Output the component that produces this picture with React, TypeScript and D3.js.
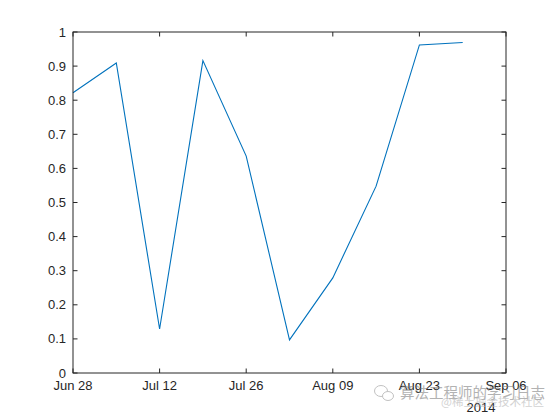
import React from "react";
import * as d3 from "d3";

const dates = ["2014-06-28","2014-07-05","2014-07-12","2014-07-19","2014-07-26","2014-08-02","2014-08-09","2014-08-16","2014-08-23","2014-08-30"];
const values = [0.822, 0.909, 0.129, 0.916, 0.636, 0.097, 0.279, 0.548, 0.962, 0.969];
const xTickDates = ["2014-06-28","2014-07-12","2014-07-26","2014-08-09","2014-08-23","2014-09-06"];
const yTicks = [0,0.1,0.2,0.3,0.4,0.5,0.6,0.7,0.8,0.9,1];

const W = 560, H = 420;
const L = 73, R = 506, T = 32, B = 373;
const AX = "#262626";
const FONT = "'Liberation Sans', Arial, Helvetica, sans-serif";
const CJK = "'Noto Sans CJK SC', sans-serif";

export default function App() {
  const parse = d3.utcParse("%Y-%m-%d");
  const x = d3.scaleUtc().domain([parse("2014-06-28")!, parse("2014-09-06")!]).range([L, R]);
  const y = d3.scaleLinear().domain([0, 1]).range([B, T]);
  const fmt = d3.utcFormat("%b %d");
  const pts = dates.map((d, i) => [x(parse(d)!), y(values[i])] as [number, number]);
  const line = d3.line();
  const tl = 4.5;
  return (
    <svg width={W} height={H} style={{ position: "absolute", left: 0, top: 0, background: "#fff" }}>
      <rect x={0} y={0} width={W} height={H} fill="#fff" />
      <path d={line(pts)!} fill="none" stroke="#0072BD" strokeWidth={1.1} />
      <rect x={L} y={T} width={R - L} height={B - T} fill="none" stroke={AX} strokeWidth={1} />
      {yTicks.map((t) => (
        <g key={"y" + t}>
          <line x1={L} x2={L + tl} y1={y(t)} y2={y(t)} stroke={AX} />
          <line x1={R} x2={R - tl} y1={y(t)} y2={y(t)} stroke={AX} />
          <text x={L - 7} y={y(t)} dy="0.35em" textAnchor="end" fontFamily={FONT} fontSize={13} fill={AX}>
            {String(t)}
          </text>
        </g>
      ))}
      {xTickDates.map((d) => {
        const xv = x(parse(d)!);
        return (
          <g key={d}>
            <line x1={xv} x2={xv} y1={B} y2={B - tl} stroke={AX} />
            <line x1={xv} x2={xv} y1={T} y2={T + tl} stroke={AX} />
            <text x={xv} y={B + 17} textAnchor="middle" fontFamily={FONT} fontSize={13} fill={AX}>
              {fmt(parse(d)!)}
            </text>
          </g>
        );
      })}
      <text x={481} y={412} textAnchor="middle" fontFamily={FONT} fontSize={13} fill={AX}>2014</text>
      <g opacity={0.6}>
        <g fill="none" stroke="#9a9a9a" strokeWidth={1}>
          <ellipse cx={381} cy={391} rx={6.5} ry={5.5} />
          <ellipse cx={388} cy={396} rx={5.5} ry={4.5} fill="#fff" />
        </g>
        <text x={441} y={406} fontFamily={CJK} fontSize={11.5} fill="#b5b5b5">@稀土掘金技术社区</text>
        <text x={400} y={398} fontFamily={CJK} fontSize={14.5} fill="#808080">算法工程师的学习日志</text>
      </g>
    </svg>
  );
}
